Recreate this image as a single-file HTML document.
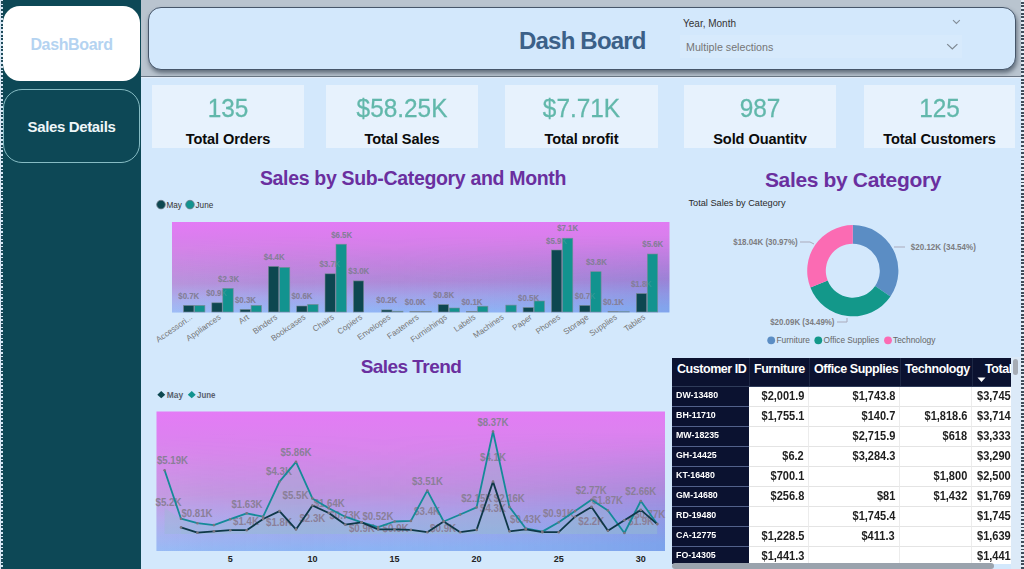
<!DOCTYPE html>
<html><head><meta charset="utf-8"><title>Dash Board</title>
<style>
*{box-sizing:border-box;margin:0;padding:0}
html,body{width:1024px;height:569px;overflow:hidden}
body{font-family:"Liberation Sans",sans-serif;background:#d3e8fc;position:relative}
.abs{position:absolute}
#side{left:0;top:0;width:141px;height:569px;background:#0d4856}
#ldots{left:0;top:0;width:3px;height:569px;background:#d9e8f5}
#ldots:after{content:"";position:absolute;left:1px;top:0;width:2px;height:569px;background:repeating-linear-gradient(to bottom,#d9e8f5 0 1.5px,#1f4b5a 1.5px 3.67px)}
#rdots{left:1021.4px;top:0;width:2.6px;height:569px;background:repeating-linear-gradient(to bottom,#e6eff8 0 1.7px,#3f4d5b 1.7px 3.67px)}
#nav1{left:3px;top:6px;width:137px;height:75px;border-radius:17px;background:#fff;color:#b4d3f1;font-weight:bold;font-size:16px;text-align:center;line-height:77px;letter-spacing:-0.35px}
#nav2{left:3px;top:89px;width:137px;height:74px;border-radius:19px;border:1px solid #86bcc4;color:#eef6f8;font-weight:bold;font-size:15px;text-align:center;line-height:74px;letter-spacing:-0.35px}
#hband{left:141px;top:0;width:880px;height:78px;background:#b9c4cf;border-bottom:1px solid #e4eefa;box-shadow:inset 0 -1px 0 #6a7684}
#hbox{left:148px;top:7px;width:868px;height:63px;border-radius:13px;background:#d3e8fc;border:1px solid #46566a;box-shadow:1px 3px 4px rgba(64,76,92,.72)}
#htitle{left:519px;top:25px;width:126px;font-size:24px;font-weight:bold;color:#3b6088;white-space:nowrap;line-height:32px;letter-spacing:-0.8px}
#sl1{left:683px;top:17.7px;font-size:10px;color:#333;line-height:12px}
#slbox{left:680px;top:35px;width:282px;height:23px;background:#d7eafc}
#sl2{left:686px;top:40px;font-size:10.7px;color:#757575;line-height:14px}
.kpi{top:84.5px;width:152px;height:63.5px;background:#e7f2fd;text-align:center;overflow:hidden}
.kpi b{display:block;font-weight:normal;color:#62b8ab;font-size:26.5px;line-height:30px;margin-top:8.5px;transform:scaleX(.92);-webkit-text-stroke:0.3px #62b8ab}
.kpi i{display:block;font-style:normal;font-weight:bold;color:#0b0b0b;font-size:14.6px;line-height:16px;margin-top:8px;letter-spacing:-0.1px;height:13.4px;overflow:hidden}
.ttl{font-weight:bold;color:#6a2f9f;white-space:nowrap;text-align:center}
svg text{font-family:"Liberation Sans",sans-serif}
.dl{font-size:9px;font-weight:bold;fill:#7e7393}
.dl2{font-size:9px;font-weight:bold;fill:#9aa}
.dn{font-size:9px;font-weight:bold;fill:#7c7c80}
.ll{font-size:10.5px;font-weight:bold;fill:#8a7f98}
.cat{font-size:8.2px;fill:#767676}
.xt{font-size:9px;font-weight:bold;fill:#222}
.lg{font-size:8.2px;fill:#333}
.lgb{font-size:9.3px;font-weight:bold;fill:#59616e}
#tbl{left:672px;top:358px;width:339px;height:206px;overflow:hidden;background:#fff}
#th{left:0;top:0;width:339px;height:29px;border-bottom:1px solid #2f3c5a;background:#0b1230;color:#fff;font-weight:bold;font-size:12.5px}
#th span{position:absolute;top:3.3px;line-height:16px;white-space:nowrap;letter-spacing:-0.45px}
#th em{position:absolute;top:0;width:1px;height:28px;background:#1d2744}
.tr{position:absolute;left:0;width:339px;height:20px}
.c u{display:inline-block;text-decoration:none;transform:scaleX(.905);transform-origin:100% 50%}
.c4 u{transform-origin:0 50%}
.c{position:absolute;top:0;height:20px;line-height:19.8px;font-size:12.2px;font-weight:bold;color:#1e1e1e;text-align:right;border-bottom:1px solid #e4e4e4;white-space:nowrap;overflow:hidden}
.c0{left:0;width:77px;background:#0b1230;color:#fff;text-align:left;border-bottom:1px solid #52618a;font-size:9.5px;padding-left:4px;line-height:16.6px}
.c0 span{display:inline-block;transform:scaleX(.93);transform-origin:0 50%}
.c1{left:77px;width:60px;padding-right:4px;border-right:1px solid #ececec}
.c2{left:137px;width:91px;padding-right:4px;border-right:1px solid #ececec}
.c3{left:228px;width:72px;padding-right:4px;border-right:1px solid #ececec}
.c4{left:300px;width:39px;text-align:left;padding-left:5px}
</style></head><body>
<div id="side" class="abs"></div><div id="ldots" class="abs"></div><div id="rdots" class="abs"></div>
<div id="nav1" class="abs">DashBoard</div>
<div id="nav2" class="abs">Sales Details</div>
<div id="hband" class="abs"></div>
<div id="hbox" class="abs"></div>
<div id="htitle" class="abs">Dash Board</div>
<div id="sl1" class="abs">Year, Month</div>
<div id="slbox" class="abs"></div>
<div id="sl2" class="abs">Multiple selections</div>
<svg class="abs" style="left:940px;top:10px" width="40" height="50" viewBox="940 10 40 50"><path d="M953 20.2 l3.4 3.2 l3.4 -3.2" fill="none" stroke="#838d97" stroke-width="1.1"/><path d="M947.2 44.1 l5.1 4.9 l5.1 -4.9" fill="none" stroke="#7d8791" stroke-width="1.2"/></svg>
<div class="kpi abs" style="left:152px"><b>135</b><i>Total Orders</i></div>
<div class="kpi abs" style="left:326px"><b>$58.25K</b><i>Total Sales</i></div>
<div class="kpi abs" style="left:505px;width:153px"><b>$7.71K</b><i>Total profit</i></div>
<div class="kpi abs" style="left:684px"><b>987</b><i>Sold Quantity</i></div>
<div class="kpi abs" style="left:864px;width:151px"><b>125</b><i>Total Customers</i></div>
<div class="ttl abs" style="left:213px;top:165px;width:400px;font-size:19.5px;line-height:26px;letter-spacing:-0.33px">Sales by Sub-Category and Month</div>
<div class="ttl abs" style="left:653px;top:166.5px;width:400px;font-size:21px;line-height:26px;letter-spacing:-0.35px">Sales by Category</div>
<div class="ttl abs" style="left:211px;top:354px;width:400px;font-size:19px;line-height:26px;letter-spacing:-0.55px">Sales Trend</div>
<svg class="abs" style="left:0;top:0" width="1024" height="569" viewBox="0 0 1024 569">
<defs>
<linearGradient id="g1" x1="0" y1="0" x2="0.05" y2="1"><stop offset="0" stop-color="#e37bf5"/><stop offset="0.28" stop-color="#d580e9"/><stop offset="0.52" stop-color="#c084de"/><stop offset="0.68" stop-color="#b08ad9"/><stop offset="0.84" stop-color="#a3a4ea"/><stop offset="1" stop-color="#93b6f6"/></linearGradient>
<linearGradient id="g2" x1="0" y1="0" x2="0.05" y2="1"><stop offset="0" stop-color="#e47bf6"/><stop offset="0.3" stop-color="#d885ec"/><stop offset="0.6" stop-color="#c092e0"/><stop offset="0.8" stop-color="#a9a6ec"/><stop offset="1" stop-color="#8db4f4"/></linearGradient>
<linearGradient id="gh" x1="0" y1="0" x2="1" y2="0"><stop offset="0" stop-color="#ffffff" stop-opacity="0.10"/><stop offset="0.45" stop-color="#8090e0" stop-opacity="0.02"/><stop offset="1" stop-color="#3c5ec8" stop-opacity="0.20"/></linearGradient>
<linearGradient id="gv" x1="0" y1="0" x2="0" y2="1"><stop offset="0.15" stop-color="#000"/><stop offset="0.7" stop-color="#fff"/></linearGradient>
<mask id="mk1" maskContentUnits="objectBoundingBox" x="0" y="0" width="1" height="1"><rect x="0" y="0" width="1" height="1" fill="url(#gv)"/></mask>
</defs>
<!-- bar chart -->
<rect x="172" y="222" width="497.5" height="90.5" fill="url(#g1)"/><rect x="172" y="222" width="497.5" height="90.5" fill="url(#gh)" mask="url(#mk1)"/>
<circle cx="161" cy="204.6" r="4.3" fill="#0d4750" stroke="#6c7a86" stroke-width="0.8"/><text x="166.5" y="207.6" class="lg">May</text>
<circle cx="190" cy="204.6" r="4.3" fill="#12938f" stroke="#6c7a86" stroke-width="0.8"/><text x="195.5" y="207.6" class="lg">June</text>
<text x="188.8" y="298.5" text-anchor="middle" textLength="21" lengthAdjust="spacingAndGlyphs" class="dl">$0.7K</text><text x="216.7" y="295.9" text-anchor="middle" textLength="21" lengthAdjust="spacingAndGlyphs" class="dl">$0.9K</text><text x="228.6" y="282.1" text-anchor="middle" textLength="21" lengthAdjust="spacingAndGlyphs" class="dl">$2.3K</text><text x="245.5" y="303.1" text-anchor="middle" textLength="21" lengthAdjust="spacingAndGlyphs" class="dl">$0.3K</text><text x="274.2" y="259.5" text-anchor="middle" textLength="21" lengthAdjust="spacingAndGlyphs" class="dl">$4.4K</text><text x="302.0" y="298.5" text-anchor="middle" textLength="21" lengthAdjust="spacingAndGlyphs" class="dl">$0.6K</text><text x="330.0" y="266.9" text-anchor="middle" textLength="21" lengthAdjust="spacingAndGlyphs" class="dl">$3.7K</text><text x="341.7" y="237.9" text-anchor="middle" textLength="21" lengthAdjust="spacingAndGlyphs" class="dl">$6.5K</text><text x="358.8" y="274.3" text-anchor="middle" textLength="21" lengthAdjust="spacingAndGlyphs" class="dl">$3.0K</text><text x="386.8" y="303.3" text-anchor="middle" textLength="21" lengthAdjust="spacingAndGlyphs" class="dl">$0.2K</text><text x="415.3" y="304.6" text-anchor="middle" textLength="21" lengthAdjust="spacingAndGlyphs" class="dl">$0.0K</text><text x="443.7" y="298.0" text-anchor="middle" textLength="21" lengthAdjust="spacingAndGlyphs" class="dl">$0.8K</text><text x="472.0" y="304.6" text-anchor="middle" textLength="21" lengthAdjust="spacingAndGlyphs" class="dl">$0.1K</text><text x="528.6" y="300.6" text-anchor="middle" textLength="21" lengthAdjust="spacingAndGlyphs" class="dl">$0.5K</text><text x="556.6" y="244.0" text-anchor="middle" textLength="21" lengthAdjust="spacingAndGlyphs" class="dl">$5.9K</text><text x="567.7" y="231.3" text-anchor="middle" textLength="21" lengthAdjust="spacingAndGlyphs" class="dl">$7.1K</text><text x="596.4" y="265.1" text-anchor="middle" textLength="21" lengthAdjust="spacingAndGlyphs" class="dl">$3.8K</text><text x="585.3" y="298.5" text-anchor="middle" textLength="21" lengthAdjust="spacingAndGlyphs" class="dl">$0.7K</text><text x="613.5" y="304.6" text-anchor="middle" textLength="21" lengthAdjust="spacingAndGlyphs" class="dl">$0.1K</text><text x="641.5" y="286.9" text-anchor="middle" textLength="21" lengthAdjust="spacingAndGlyphs" class="dl">$1.8K</text><text x="652.8" y="247.4" text-anchor="middle" textLength="21" lengthAdjust="spacingAndGlyphs" class="dl">$5.6K</text>
<rect x="183.5" y="305.4" width="10.4" height="6.6" fill="#0d4750" stroke="#7d8a96" stroke-width="0.6"/><rect x="194.5" y="305.4" width="10.4" height="6.6" fill="#12938f" stroke="#7d8a96" stroke-width="0.6"/><rect x="211.8" y="302.8" width="10.4" height="9.2" fill="#0d4750" stroke="#7d8a96" stroke-width="0.6"/><rect x="222.8" y="288.3" width="10.4" height="23.7" fill="#12938f" stroke="#7d8a96" stroke-width="0.6"/><rect x="240.1" y="309.4" width="10.4" height="2.6" fill="#0d4750" stroke="#7d8a96" stroke-width="0.6"/><rect x="251.1" y="305.4" width="10.4" height="6.6" fill="#12938f" stroke="#7d8a96" stroke-width="0.6"/><rect x="268.4" y="266.4" width="10.4" height="45.6" fill="#0d4750" stroke="#7d8a96" stroke-width="0.6"/><rect x="279.4" y="267.4" width="10.4" height="44.6" fill="#12938f" stroke="#7d8a96" stroke-width="0.6"/><rect x="296.7" y="306.0" width="10.4" height="6.0" fill="#0d4750" stroke="#7d8a96" stroke-width="0.6"/><rect x="307.7" y="304.4" width="10.4" height="7.6" fill="#12938f" stroke="#7d8a96" stroke-width="0.6"/><rect x="325.0" y="273.8" width="10.4" height="38.2" fill="#0d4750" stroke="#7d8a96" stroke-width="0.6"/><rect x="336.0" y="244.2" width="10.4" height="67.8" fill="#12938f" stroke="#7d8a96" stroke-width="0.6"/><rect x="353.3" y="280.9" width="10.4" height="31.1" fill="#0d4750" stroke="#7d8a96" stroke-width="0.6"/><rect x="381.6" y="309.9" width="10.4" height="2.1" fill="#0d4750" stroke="#7d8a96" stroke-width="0.6"/><rect x="392.6" y="311.2" width="10.4" height="0.8" fill="#12938f" stroke="#7d8a96" stroke-width="0.6"/><rect x="409.9" y="311.5" width="10.4" height="0.5" fill="#0d4750" stroke="#7d8a96" stroke-width="0.6"/><rect x="420.9" y="311.5" width="10.4" height="0.5" fill="#12938f" stroke="#7d8a96" stroke-width="0.6"/><rect x="438.2" y="304.6" width="10.4" height="7.4" fill="#0d4750" stroke="#7d8a96" stroke-width="0.6"/><rect x="449.2" y="308.0" width="10.4" height="4.0" fill="#12938f" stroke="#7d8a96" stroke-width="0.6"/><rect x="466.5" y="311.5" width="10.4" height="0.5" fill="#0d4750" stroke="#7d8a96" stroke-width="0.6"/><rect x="477.5" y="306.2" width="10.4" height="5.8" fill="#12938f" stroke="#7d8a96" stroke-width="0.6"/><rect x="505.8" y="305.1" width="10.4" height="6.9" fill="#12938f" stroke="#7d8a96" stroke-width="0.6"/><rect x="523.1" y="307.5" width="10.4" height="4.5" fill="#0d4750" stroke="#7d8a96" stroke-width="0.6"/><rect x="534.1" y="301.0" width="10.4" height="11.0" fill="#12938f" stroke="#7d8a96" stroke-width="0.6"/><rect x="551.4" y="250.0" width="10.4" height="62.0" fill="#0d4750" stroke="#7d8a96" stroke-width="0.6"/><rect x="562.4" y="238.2" width="10.4" height="73.8" fill="#12938f" stroke="#7d8a96" stroke-width="0.6"/><rect x="579.7" y="305.4" width="10.4" height="6.6" fill="#0d4750" stroke="#7d8a96" stroke-width="0.6"/><rect x="590.7" y="271.7" width="10.4" height="40.3" fill="#12938f" stroke="#7d8a96" stroke-width="0.6"/><rect x="608.0" y="311.5" width="10.4" height="0.5" fill="#0d4750" stroke="#7d8a96" stroke-width="0.6"/><rect x="619.0" y="311.7" width="10.4" height="0.3" fill="#12938f" stroke="#7d8a96" stroke-width="0.6"/><rect x="636.3" y="293.5" width="10.4" height="18.5" fill="#0d4750" stroke="#7d8a96" stroke-width="0.6"/><rect x="647.3" y="254.0" width="10.4" height="58.0" fill="#12938f" stroke="#7d8a96" stroke-width="0.6"/>
<g opacity="0.22"><text x="188.8" y="298.5" text-anchor="middle" textLength="21" lengthAdjust="spacingAndGlyphs" class="dl2">$0.7K</text><text x="216.7" y="295.9" text-anchor="middle" textLength="21" lengthAdjust="spacingAndGlyphs" class="dl2">$0.9K</text><text x="228.6" y="282.1" text-anchor="middle" textLength="21" lengthAdjust="spacingAndGlyphs" class="dl2">$2.3K</text><text x="245.5" y="303.1" text-anchor="middle" textLength="21" lengthAdjust="spacingAndGlyphs" class="dl2">$0.3K</text><text x="274.2" y="259.5" text-anchor="middle" textLength="21" lengthAdjust="spacingAndGlyphs" class="dl2">$4.4K</text><text x="302.0" y="298.5" text-anchor="middle" textLength="21" lengthAdjust="spacingAndGlyphs" class="dl2">$0.6K</text><text x="330.0" y="266.9" text-anchor="middle" textLength="21" lengthAdjust="spacingAndGlyphs" class="dl2">$3.7K</text><text x="341.7" y="237.9" text-anchor="middle" textLength="21" lengthAdjust="spacingAndGlyphs" class="dl2">$6.5K</text><text x="358.8" y="274.3" text-anchor="middle" textLength="21" lengthAdjust="spacingAndGlyphs" class="dl2">$3.0K</text><text x="386.8" y="303.3" text-anchor="middle" textLength="21" lengthAdjust="spacingAndGlyphs" class="dl2">$0.2K</text><text x="415.3" y="304.6" text-anchor="middle" textLength="21" lengthAdjust="spacingAndGlyphs" class="dl2">$0.0K</text><text x="443.7" y="298.0" text-anchor="middle" textLength="21" lengthAdjust="spacingAndGlyphs" class="dl2">$0.8K</text><text x="472.0" y="304.6" text-anchor="middle" textLength="21" lengthAdjust="spacingAndGlyphs" class="dl2">$0.1K</text><text x="528.6" y="300.6" text-anchor="middle" textLength="21" lengthAdjust="spacingAndGlyphs" class="dl2">$0.5K</text><text x="556.6" y="244.0" text-anchor="middle" textLength="21" lengthAdjust="spacingAndGlyphs" class="dl2">$5.9K</text><text x="567.7" y="231.3" text-anchor="middle" textLength="21" lengthAdjust="spacingAndGlyphs" class="dl2">$7.1K</text><text x="596.4" y="265.1" text-anchor="middle" textLength="21" lengthAdjust="spacingAndGlyphs" class="dl2">$3.8K</text><text x="585.3" y="298.5" text-anchor="middle" textLength="21" lengthAdjust="spacingAndGlyphs" class="dl2">$0.7K</text><text x="613.5" y="304.6" text-anchor="middle" textLength="21" lengthAdjust="spacingAndGlyphs" class="dl2">$0.1K</text><text x="641.5" y="286.9" text-anchor="middle" textLength="21" lengthAdjust="spacingAndGlyphs" class="dl2">$1.8K</text><text x="652.8" y="247.4" text-anchor="middle" textLength="21" lengthAdjust="spacingAndGlyphs" class="dl2">$5.6K</text></g>
<text transform="translate(193.0,318.5) rotate(-35)" text-anchor="end" class="cat">Accessori...</text><text transform="translate(221.3,318.5) rotate(-35)" text-anchor="end" class="cat">Appliances</text><text transform="translate(249.6,318.5) rotate(-35)" text-anchor="end" class="cat">Art</text><text transform="translate(277.9,318.5) rotate(-35)" text-anchor="end" class="cat">Binders</text><text transform="translate(306.2,318.5) rotate(-35)" text-anchor="end" class="cat">Bookcases</text><text transform="translate(334.5,318.5) rotate(-35)" text-anchor="end" class="cat">Chairs</text><text transform="translate(362.8,318.5) rotate(-35)" text-anchor="end" class="cat">Copiers</text><text transform="translate(391.1,318.5) rotate(-35)" text-anchor="end" class="cat">Envelopes</text><text transform="translate(419.4,318.5) rotate(-35)" text-anchor="end" class="cat">Fasteners</text><text transform="translate(447.7,318.5) rotate(-35)" text-anchor="end" class="cat">Furnishings</text><text transform="translate(476.0,318.5) rotate(-35)" text-anchor="end" class="cat">Labels</text><text transform="translate(504.3,318.5) rotate(-35)" text-anchor="end" class="cat">Machines</text><text transform="translate(532.6,318.5) rotate(-35)" text-anchor="end" class="cat">Paper</text><text transform="translate(560.9,318.5) rotate(-35)" text-anchor="end" class="cat">Phones</text><text transform="translate(589.2,318.5) rotate(-35)" text-anchor="end" class="cat">Storage</text><text transform="translate(617.5,318.5) rotate(-35)" text-anchor="end" class="cat">Supplies</text><text transform="translate(645.8,318.5) rotate(-35)" text-anchor="end" class="cat">Tables</text>
<!-- line chart -->
<rect x="156.5" y="411.5" width="508.5" height="139.5" fill="url(#g2)"/><rect x="156.5" y="411.5" width="508.5" height="139.5" fill="url(#gh)" mask="url(#mk1)"/>
<path d="M157.3 394.7 l3.95 -3.6 l3.95 3.6 l-3.95 3.6z" fill="#0d4750"/><text x="166.7" y="398" class="lgb" textLength="16.4" lengthAdjust="spacingAndGlyphs">May</text>
<path d="M187.8 394.7 l3.95 -3.6 l3.95 3.6 l-3.95 3.6z" fill="#12938f"/><text x="197" y="398" class="lgb" textLength="18.4" lengthAdjust="spacingAndGlyphs">June</text>
<polygon points="164.6,534.0 164.6,508 181.0,518.7 197.4,523.2 213.9,525.1 230.3,519.2 246.7,513.3 263.1,516.7 279.5,481.6 296.0,461.9 312.4,498.4 328.8,508.3 345.2,516.7 361.6,522.3 378.1,527.1 394.5,521.5 410.9,520.9 427.3,490.6 443.7,521.5 460.2,514.5 476.6,507.4 493.0,431.5 509.4,506.9 525.8,528.5 542.3,531.6 558.7,522.3 575.1,511.1 591.5,499.7 607.9,510.5 624.4,533.0 640.8,501.0 657.2,524.0 657.2,534.0" fill="rgba(150,190,205,0.32)"/>
<polygon points="181.0,534.0 181.0,527.4 197.4,532.7 213.9,531.3 230.3,530.2 246.7,530.2 263.1,519.0 279.5,511.1 296.0,529.4 312.4,505.5 328.8,513.0 345.2,524.6 361.6,522.3 378.1,529.4 394.5,529.4 410.9,529.9 427.3,532.2 443.7,521.5 460.2,532.2 476.6,529.9 493.0,481.6 509.4,531.3 525.8,529.4 542.3,532.2 558.7,532.2 575.1,516.7 591.5,506.9 607.9,530.8 624.4,520.3 640.8,509.9 657.2,524.1 657.2,534.0" fill="rgba(150,190,205,0.22)"/>
<text x="172.5" y="464.1" text-anchor="middle" textLength="31" lengthAdjust="spacingAndGlyphs" class="ll">$5.19K</text><text x="168.5" y="506.1" text-anchor="middle" textLength="26" lengthAdjust="spacingAndGlyphs" class="ll">$5.2K</text><text x="197.0" y="517.1" text-anchor="middle" textLength="31" lengthAdjust="spacingAndGlyphs" class="ll">$0.81K</text><text x="247.0" y="508.1" text-anchor="middle" textLength="31" lengthAdjust="spacingAndGlyphs" class="ll">$1.63K</text><text x="246.0" y="525.1" text-anchor="middle" textLength="26" lengthAdjust="spacingAndGlyphs" class="ll">$1.4K</text><text x="279.0" y="474.6" text-anchor="middle" textLength="26" lengthAdjust="spacingAndGlyphs" class="ll">$4.3K</text><text x="296.0" y="456.1" text-anchor="middle" textLength="31" lengthAdjust="spacingAndGlyphs" class="ll">$5.86K</text><text x="295.5" y="499.1" text-anchor="middle" textLength="26" lengthAdjust="spacingAndGlyphs" class="ll">$5.5K</text><text x="279.0" y="526.1" text-anchor="middle" textLength="26" lengthAdjust="spacingAndGlyphs" class="ll">$1.8K</text><text x="312.4" y="522.3" text-anchor="middle" textLength="26" lengthAdjust="spacingAndGlyphs" class="ll">$2.3K</text><text x="329.2" y="507.1" text-anchor="middle" textLength="31" lengthAdjust="spacingAndGlyphs" class="ll">$1.64K</text><text x="345.0" y="518.9" text-anchor="middle" textLength="31" lengthAdjust="spacingAndGlyphs" class="ll">$0.73K</text><text x="377.9" y="520.3" text-anchor="middle" textLength="31" lengthAdjust="spacingAndGlyphs" class="ll">$0.52K</text><text x="361.9" y="532.1" text-anchor="middle" textLength="26" lengthAdjust="spacingAndGlyphs" class="ll">$0.9K</text><text x="395.6" y="532.1" text-anchor="middle" textLength="26" lengthAdjust="spacingAndGlyphs" class="ll">$0.9K</text><text x="427.4" y="484.6" text-anchor="middle" textLength="31" lengthAdjust="spacingAndGlyphs" class="ll">$3.51K</text><text x="427.1" y="515.2" text-anchor="middle" textLength="26" lengthAdjust="spacingAndGlyphs" class="ll">$3.4K</text><text x="443.1" y="532.4" text-anchor="middle" textLength="26" lengthAdjust="spacingAndGlyphs" class="ll">$0.9K</text><text x="492.9" y="426.1" text-anchor="middle" textLength="31" lengthAdjust="spacingAndGlyphs" class="ll">$8.37K</text><text x="493.0" y="461.3" text-anchor="middle" textLength="26" lengthAdjust="spacingAndGlyphs" class="ll">$4.1K</text><text x="476.7" y="502.0" text-anchor="middle" textLength="31" lengthAdjust="spacingAndGlyphs" class="ll">$2.15K</text><text x="509.3" y="502.0" text-anchor="middle" textLength="31" lengthAdjust="spacingAndGlyphs" class="ll">$2.16K</text><text x="493.0" y="511.9" text-anchor="middle" textLength="26" lengthAdjust="spacingAndGlyphs" class="ll">$4.3K</text><text x="525.6" y="522.6" text-anchor="middle" textLength="31" lengthAdjust="spacingAndGlyphs" class="ll">$0.43K</text><text x="558.5" y="516.6" text-anchor="middle" textLength="31" lengthAdjust="spacingAndGlyphs" class="ll">$0.91K</text><text x="591.2" y="493.6" text-anchor="middle" textLength="31" lengthAdjust="spacingAndGlyphs" class="ll">$2.77K</text><text x="607.5" y="504.3" text-anchor="middle" textLength="31" lengthAdjust="spacingAndGlyphs" class="ll">$1.87K</text><text x="591.3" y="524.5" text-anchor="middle" textLength="26" lengthAdjust="spacingAndGlyphs" class="ll">$2.2K</text><text x="640.8" y="495.1" text-anchor="middle" textLength="31" lengthAdjust="spacingAndGlyphs" class="ll">$2.66K</text><text x="649.7" y="517.9" text-anchor="middle" textLength="31" lengthAdjust="spacingAndGlyphs" class="ll">$0.77K</text><text x="641.1" y="525.4" text-anchor="middle" textLength="26" lengthAdjust="spacingAndGlyphs" class="ll">$1.9K</text>
<polyline points="164.6,470.3 181.0,518.7 197.4,523.2 213.9,525.1 230.3,519.2 246.7,513.3 263.1,516.7 279.5,481.6 296.0,461.9 312.4,498.4 328.8,508.3 345.2,516.7 361.6,522.3 378.1,527.1 394.5,521.5 410.9,520.9 427.3,490.6 443.7,521.5 460.2,514.5 476.6,507.4 493.0,431.5 509.4,506.9 525.8,528.5 542.3,531.6 558.7,522.3 575.1,511.1 591.5,499.7 607.9,510.5 624.4,533.0 640.8,501.0 657.2,524.0" fill="none" stroke="#158a98" stroke-width="1.8" stroke-linejoin="round"/>
<polyline points="181.0,527.4 197.4,532.7 213.9,531.3 230.3,530.2 246.7,530.2 263.1,519.0 279.5,511.1 296.0,529.4 312.4,505.5 328.8,513.0 345.2,524.6 361.6,522.3 378.1,529.4 394.5,529.4 410.9,529.9 427.3,532.2 443.7,521.5 460.2,532.2 476.6,529.9 493.0,481.6 509.4,531.3 525.8,529.4 542.3,532.2 558.7,532.2 575.1,516.7 591.5,506.9 607.9,530.8 624.4,520.3 640.8,509.9 657.2,524.1" fill="none" stroke="#0f3848" stroke-width="1.8" stroke-linejoin="round"/>
<circle cx="164.6" cy="470.3" r="1.3" fill="#7a7480"/><circle cx="181.0" cy="518.7" r="1.3" fill="#7a7480"/><circle cx="197.4" cy="523.2" r="1.3" fill="#7a7480"/><circle cx="213.9" cy="525.1" r="1.3" fill="#7a7480"/><circle cx="230.3" cy="519.2" r="1.3" fill="#7a7480"/><circle cx="246.7" cy="513.3" r="1.3" fill="#7a7480"/><circle cx="263.1" cy="516.7" r="1.3" fill="#7a7480"/><circle cx="279.5" cy="481.6" r="1.3" fill="#7a7480"/><circle cx="296.0" cy="461.9" r="1.3" fill="#7a7480"/><circle cx="312.4" cy="498.4" r="1.3" fill="#7a7480"/><circle cx="328.8" cy="508.3" r="1.3" fill="#7a7480"/><circle cx="345.2" cy="516.7" r="1.3" fill="#7a7480"/><circle cx="361.6" cy="522.3" r="1.3" fill="#7a7480"/><circle cx="378.1" cy="527.1" r="1.3" fill="#7a7480"/><circle cx="394.5" cy="521.5" r="1.3" fill="#7a7480"/><circle cx="410.9" cy="520.9" r="1.3" fill="#7a7480"/><circle cx="427.3" cy="490.6" r="1.3" fill="#7a7480"/><circle cx="443.7" cy="521.5" r="1.3" fill="#7a7480"/><circle cx="460.2" cy="514.5" r="1.3" fill="#7a7480"/><circle cx="476.6" cy="507.4" r="1.3" fill="#7a7480"/><circle cx="493.0" cy="431.5" r="1.3" fill="#7a7480"/><circle cx="509.4" cy="506.9" r="1.3" fill="#7a7480"/><circle cx="525.8" cy="528.5" r="1.3" fill="#7a7480"/><circle cx="542.3" cy="531.6" r="1.3" fill="#7a7480"/><circle cx="558.7" cy="522.3" r="1.3" fill="#7a7480"/><circle cx="575.1" cy="511.1" r="1.3" fill="#7a7480"/><circle cx="591.5" cy="499.7" r="1.3" fill="#7a7480"/><circle cx="607.9" cy="510.5" r="1.3" fill="#7a7480"/><circle cx="624.4" cy="533.0" r="1.3" fill="#7a7480"/><circle cx="640.8" cy="501.0" r="1.3" fill="#7a7480"/><circle cx="657.2" cy="524.0" r="1.3" fill="#7a7480"/><circle cx="181.0" cy="527.4" r="1.3" fill="#7a7480"/><circle cx="197.4" cy="532.7" r="1.3" fill="#7a7480"/><circle cx="213.9" cy="531.3" r="1.3" fill="#7a7480"/><circle cx="230.3" cy="530.2" r="1.3" fill="#7a7480"/><circle cx="246.7" cy="530.2" r="1.3" fill="#7a7480"/><circle cx="263.1" cy="519.0" r="1.3" fill="#7a7480"/><circle cx="279.5" cy="511.1" r="1.3" fill="#7a7480"/><circle cx="296.0" cy="529.4" r="1.3" fill="#7a7480"/><circle cx="312.4" cy="505.5" r="1.3" fill="#7a7480"/><circle cx="328.8" cy="513.0" r="1.3" fill="#7a7480"/><circle cx="345.2" cy="524.6" r="1.3" fill="#7a7480"/><circle cx="361.6" cy="522.3" r="1.3" fill="#7a7480"/><circle cx="378.1" cy="529.4" r="1.3" fill="#7a7480"/><circle cx="394.5" cy="529.4" r="1.3" fill="#7a7480"/><circle cx="410.9" cy="529.9" r="1.3" fill="#7a7480"/><circle cx="427.3" cy="532.2" r="1.3" fill="#7a7480"/><circle cx="443.7" cy="521.5" r="1.3" fill="#7a7480"/><circle cx="460.2" cy="532.2" r="1.3" fill="#7a7480"/><circle cx="476.6" cy="529.9" r="1.3" fill="#7a7480"/><circle cx="493.0" cy="481.6" r="1.3" fill="#7a7480"/><circle cx="509.4" cy="531.3" r="1.3" fill="#7a7480"/><circle cx="525.8" cy="529.4" r="1.3" fill="#7a7480"/><circle cx="542.3" cy="532.2" r="1.3" fill="#7a7480"/><circle cx="558.7" cy="532.2" r="1.3" fill="#7a7480"/><circle cx="575.1" cy="516.7" r="1.3" fill="#7a7480"/><circle cx="591.5" cy="506.9" r="1.3" fill="#7a7480"/><circle cx="607.9" cy="530.8" r="1.3" fill="#7a7480"/><circle cx="624.4" cy="520.3" r="1.3" fill="#7a7480"/><circle cx="640.8" cy="509.9" r="1.3" fill="#7a7480"/><circle cx="657.2" cy="524.1" r="1.3" fill="#7a7480"/>
<text x="230.3" y="562" text-anchor="middle" class="xt">5</text><text x="312.4" y="562" text-anchor="middle" class="xt">10</text><text x="394.5" y="562" text-anchor="middle" class="xt">15</text><text x="476.6" y="562" text-anchor="middle" class="xt">20</text><text x="558.7" y="562" text-anchor="middle" class="xt">25</text><text x="640.8" y="562" text-anchor="middle" class="xt">30</text>
<!-- donut -->
<text x="688.5" y="205.5" style="font-size:9.5px;fill:#2a2a2a" textLength="97" lengthAdjust="spacingAndGlyphs">Total Sales by Category</text>
<path d="M852.80,225.10 A45.6,45.6 0 0 1 890.45,296.43 L875.09,285.93 A27.0,27.0 0 0 0 852.80,243.70 Z" fill="#5b8dc4"/><path d="M890.45,296.43 A45.6,45.6 0 0 1 810.37,287.41 L827.68,280.59 A27.0,27.0 0 0 0 875.09,285.93 Z" fill="#13988a"/><path d="M810.37,287.41 A45.6,45.6 0 0 1 852.80,225.10 L852.80,243.70 A27.0,27.0 0 0 0 827.68,280.59 Z" fill="#fb6bb3"/>
<path d="M894 247 h11" stroke="#aab" stroke-width="1" fill="none"/>
<path d="M800 242 h10 l4 2" stroke="#aab" stroke-width="1" fill="none"/>
<path d="M837 322 h10 v-4" stroke="#aab" stroke-width="1" fill="none"/>
<text x="910.8" y="250" class="dn" textLength="65" lengthAdjust="spacingAndGlyphs">$20.12K (34.54%)</text>
<text x="733.3" y="245.2" class="dn" textLength="64.3" lengthAdjust="spacingAndGlyphs">$18.04K (30.97%)</text>
<text x="770.2" y="325" class="dn" textLength="64.3" lengthAdjust="spacingAndGlyphs">$20.09K (34.49%)</text>
<circle cx="771.2" cy="340.3" r="3.9" fill="#5b8dc4"/><text x="776.5" y="343.4" class="cat" style="font-size:8.5px;fill:#666" textLength="33.5" lengthAdjust="spacingAndGlyphs">Furniture</text>
<circle cx="818.3" cy="340.3" r="3.9" fill="#13988a"/><text x="823.6" y="343.4" class="cat" style="font-size:8.5px;fill:#666" textLength="55.5" lengthAdjust="spacingAndGlyphs">Office Supplies</text>
<circle cx="888" cy="340.3" r="3.9" fill="#fb6bb3"/><text x="893" y="343.4" class="cat" style="font-size:8.5px;fill:#666" textLength="42.4" lengthAdjust="spacingAndGlyphs">Technology</text>
</svg>
<div id="tbl" class="abs">
<div id="th" class="abs"><span style="left:5px">Customer ID</span><span style="left:82px">Furniture</span><span style="left:142px">Office Supplies</span><span style="left:233px">Technology</span><span style="left:313px">Total</span>
<em style="left:77px"></em><em style="left:137px"></em><em style="left:228px"></em><em style="left:300px"></em><svg class="abs" style="left:304.5px;top:18.7px" width="10" height="6"><path d="M0.5 0.5 h8 l-4 4.5z" fill="#fff"/></svg></div>
<div class="tr" style="top:29px"><div class="c c0"><span>DW-13480</span></div><div class="c c1"><u>$2,001.9</u></div><div class="c c2"><u>$1,743.8</u></div><div class="c c3"><u></u></div><div class="c c4"><u>$3,745</u></div></div><div class="tr" style="top:49px"><div class="c c0"><span>BH-11710</span></div><div class="c c1"><u>$1,755.1</u></div><div class="c c2"><u>$140.7</u></div><div class="c c3"><u>$1,818.6</u></div><div class="c c4"><u>$3,714</u></div></div><div class="tr" style="top:69px"><div class="c c0"><span>MW-18235</span></div><div class="c c1"><u></u></div><div class="c c2"><u>$2,715.9</u></div><div class="c c3"><u>$618</u></div><div class="c c4"><u>$3,333</u></div></div><div class="tr" style="top:89px"><div class="c c0"><span>GH-14425</span></div><div class="c c1"><u>$6.2</u></div><div class="c c2"><u>$3,284.3</u></div><div class="c c3"><u></u></div><div class="c c4"><u>$3,290</u></div></div><div class="tr" style="top:109px"><div class="c c0"><span>KT-16480</span></div><div class="c c1"><u>$700.1</u></div><div class="c c2"><u></u></div><div class="c c3"><u>$1,800</u></div><div class="c c4"><u>$2,500</u></div></div><div class="tr" style="top:129px"><div class="c c0"><span>GM-14680</span></div><div class="c c1"><u>$256.8</u></div><div class="c c2"><u>$81</u></div><div class="c c3"><u>$1,432</u></div><div class="c c4"><u>$1,769</u></div></div><div class="tr" style="top:149px"><div class="c c0"><span>RD-19480</span></div><div class="c c1"><u></u></div><div class="c c2"><u>$1,745.4</u></div><div class="c c3"><u></u></div><div class="c c4"><u>$1,745</u></div></div><div class="tr" style="top:169px"><div class="c c0"><span>CA-12775</span></div><div class="c c1"><u>$1,228.5</u></div><div class="c c2"><u>$411.3</u></div><div class="c c3"><u></u></div><div class="c c4"><u>$1,639</u></div></div><div class="tr" style="top:189px"><div class="c c0"><span>FO-14305</span></div><div class="c c1"><u>$1,441.3</u></div><div class="c c2"><u></u></div><div class="c c3"><u></u></div><div class="c c4"><u>$1,441.3</u></div></div>
</div>
<div class="abs" style="left:672px;top:563px;width:322px;height:6px;background:#9aa3ad;border-radius:3px"></div>
<div class="abs" style="left:1011px;top:357px;width:10px;height:212px;background:#dceaf8"></div>
<div class="abs" style="left:1012.5px;top:359px;width:5px;height:16px;background:#a6acb4;border-radius:2.5px"></div>
</body></html>
